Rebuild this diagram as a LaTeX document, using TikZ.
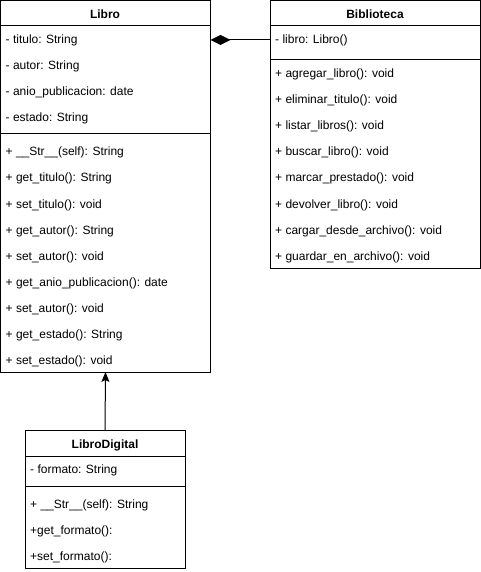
\documentclass[tikz,border=0pt]{standalone}
\usepackage{fontspec}
\setmainfont{Liberation Sans}
\usetikzlibrary{arrows.meta}
\begin{document}
\begin{tikzpicture}[x=1pt,y=-1pt,
  classbox/.style={draw=black, line width=1pt, fill=white, anchor=north west, inner sep=0pt, outer sep=0pt},
  classtitle/.style={font=\fontsize{12}{14}\selectfont\bfseries, anchor=base, inner sep=0pt},
  member/.style={font=\fontsize{12}{14}\selectfont, anchor=base west, inner sep=0pt},
  sepline/.style={line width=1pt},
  composition/.style={line width=1pt, -{Diamond[length=20pt,width=10pt]}},
  inherit/.style={line width=1pt, -{Stealth[length=10pt,width=8pt,inset=2pt]}}]
\useasboundingbox (0,0) rectangle (481,572);

% ---------- Libro ----------
\node[classbox, minimum width=210, minimum height=371] (libro) at (0.5,1) {};
\node[classtitle] (libroT) at (105,18.5) {Libro};
\coordinate (lh) at (0,26);
\coordinate (ls) at (0,134);
\draw[sepline] (libro.west |- lh) -- (libro.east |- lh);
\draw[sepline] (libro.west |- ls) -- (libro.east |- ls);
\node[member] (la1) at (5.5,44) {- titulo: String};
\node[member] (la2) at (5.5,70) {- autor: String};
\node[member] (la3) at (5.5,96) {- anio\_publicacion: date};
\node[member] (la4) at (5.5,122) {- estado: String};
\node[member] (lm1) at (5.5,156) {+ \_\_Str\_\_(self): String};
\node[member] (lm2) at (5.5,182) {+ get\_titulo(): String};
\node[member] (lm3) at (5.5,208) {+ set\_titulo(): void};
\node[member] (lm4) at (5.5,234) {+ get\_autor(): String};
\node[member] (lm5) at (5.5,260) {+ set\_autor(): void};
\node[member] (lm6) at (5.5,286) {+ get\_anio\_publicacion(): date};
\node[member] (lm7) at (5.5,312) {+ set\_autor(): void};
\node[member] (lm8) at (5.5,338) {+ get\_estado(): String};
\node[member] (lm9) at (5.5,364) {+ set\_estado(): void};

% ---------- Biblioteca ----------
\node[classbox, minimum width=210, minimum height=267] (biblio) at (270,1) {};
\node[classtitle] (biblioT) at (375,18.5) {Biblioteca};
\coordinate (bh) at (0,26);
\coordinate (bs) at (0,60);
\draw[sepline] (biblio.west |- bh) -- (biblio.east |- bh);
\draw[sepline] (biblio.west |- bs) -- (biblio.east |- bs);
\node[member] (ba1) at (275,44) {- libro: Libro()};
\node[member] (bm1) at (275,78) {+ agregar\_libro(): void};
\node[member] (bm2) at (275,104) {+ eliminar\_titulo(): void};
\node[member] (bm3) at (275,130) {+ listar\_libros(): void};
\node[member] (bm4) at (275,156) {+ buscar\_libro(): void};
\node[member] (bm5) at (275,182) {+ marcar\_prestado(): void};
\node[member] (bm6) at (275,208) {+ devolver\_libro(): void};
\node[member] (bm7) at (275,234) {+ cargar\_desde\_archivo(): void};
\node[member] (bm8) at (275,260) {+ guardar\_en\_archivo(): void};

% ---------- LibroDigital ----------
\node[classbox, minimum width=160, minimum height=138] (digital) at (25,430) {};
\node[classtitle] (digitalT) at (105,448) {LibroDigital};
\coordinate (dh) at (0,456.5);
\coordinate (ds) at (0,486);
\draw[sepline] (digital.west |- dh) -- (digital.east |- dh);
\draw[sepline] (digital.west |- ds) -- (digital.east |- ds);
\node[member] (da1) at (30,473) {- formato: String};
\node[member] (dm1) at (30,508) {+ \_\_Str\_\_(self): String};
\node[member] (dm2) at (30,534) {+get\_formato():};
\node[member] (dm3) at (30,560) {+set\_formato():};

% ---------- connectors ----------
\coordinate (comp) at (0,40);
\draw[composition] (biblio.west |- comp) -- (libro.east |- comp);
\draw[inherit] (digital.north) -- (libro.south);
\end{tikzpicture}
\end{document}
